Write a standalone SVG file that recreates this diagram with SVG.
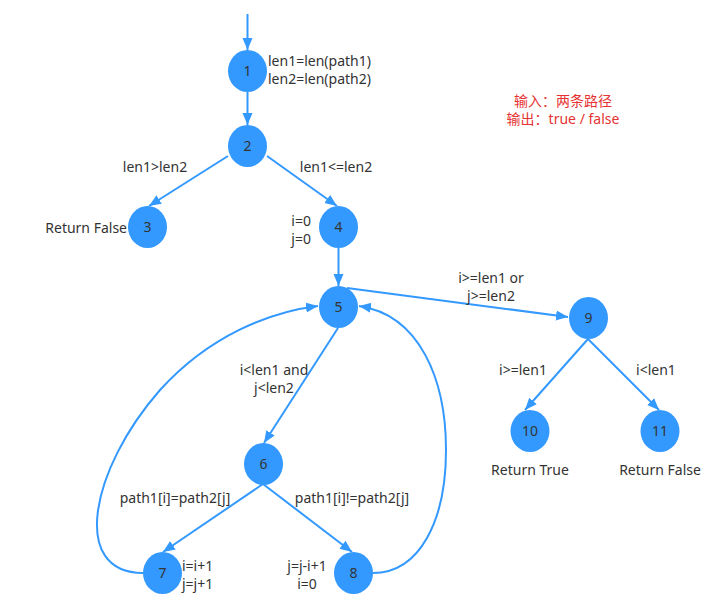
<svg xmlns="http://www.w3.org/2000/svg" width="714" height="602" viewBox="0 0 714 602">
<defs>
<marker id="arr" markerUnits="userSpaceOnUse" markerWidth="13" markerHeight="11" refX="12" refY="5" orient="auto">
<path d="M0,0 L12,5 L0,10 z" fill="#3399ff"/>
</marker>
<style>
.node{fill:#3399ff;}
.num{font-family:"Noto Sans","Open Sans",sans-serif;font-size:14px;fill:#333;text-anchor:middle;}
.lbl{font-family:"Noto Sans","Open Sans",sans-serif;font-size:14px;fill:#333;}
.mid{text-anchor:middle;}
.end{text-anchor:end;}
.edge{stroke:#3399ff;stroke-width:2;fill:none;marker-end:url(#arr);}
.note{font-family:"Noto Sans","Noto Sans CJK SC",sans-serif;font-size:14px;fill:#e53333;text-anchor:middle;}
</style>
</defs>
<rect width="714" height="602" fill="#ffffff"/>
<g id="edges">
<line class="edge" x1="247.5" y1="14" x2="247.5" y2="50"/>
<line class="edge" x1="247.5" y1="92" x2="247.5" y2="125"/>
<line class="edge" x1="228" y1="156" x2="149" y2="206"/>
<line class="edge" x1="267" y1="156" x2="337" y2="206"/>
<line class="edge" x1="338.5" y1="248" x2="338.5" y2="286"/>
<line class="edge" x1="338" y1="328" x2="264" y2="443"/>
<line class="edge" x1="263" y1="484" x2="163" y2="552"/>
<line class="edge" x1="263" y1="484" x2="352" y2="552"/>
<line class="edge" x1="347" y1="288" x2="568" y2="317"/>
<line class="edge" x1="588" y1="339" x2="525" y2="410"/>
<line class="edge" x1="588" y1="339" x2="659" y2="410"/>
<path class="edge" d="M143,573 C70,573 90,470 160,390 C210,335 270,312 318,306"/>
<path class="edge" d="M373,573 C420,573 446,520 446,450 C446,380 420,315 359,306"/>
</g>
<g id="n1"><ellipse class="node" cx="247.5" cy="71" rx="19.5" ry="21"/><text class="num" x="247.5" y="76">1</text></g>
<g id="n2"><ellipse class="node" cx="247.5" cy="146" rx="19.5" ry="21"/><text class="num" x="247.5" y="151">2</text></g>
<g id="n3"><ellipse class="node" cx="147.5" cy="227" rx="19.5" ry="21"/><text class="num" x="147.5" y="232">3</text></g>
<g id="n4"><ellipse class="node" cx="338.5" cy="227" rx="19.5" ry="21"/><text class="num" x="338.5" y="232">4</text></g>
<g id="n5"><ellipse class="node" cx="338.5" cy="307" rx="19.5" ry="21"/><text class="num" x="338.5" y="312">5</text></g>
<g id="n6"><ellipse class="node" cx="263.5" cy="464" rx="19.5" ry="21"/><text class="num" x="263.5" y="469">6</text></g>
<g id="n7"><ellipse class="node" cx="162.5" cy="573" rx="19.5" ry="21"/><text class="num" x="162.5" y="578">7</text></g>
<g id="n8"><ellipse class="node" cx="353.5" cy="573" rx="19.5" ry="21"/><text class="num" x="353.5" y="578">8</text></g>
<g id="n9"><ellipse class="node" cx="588.5" cy="318" rx="19.5" ry="21"/><text class="num" x="588.5" y="323">9</text></g>
<g id="n10"><ellipse class="node" cx="530" cy="431" rx="19.5" ry="21"/><text class="num" x="530" y="436">10</text></g>
<g id="n11"><ellipse class="node" cx="660" cy="431" rx="19.5" ry="21"/><text class="num" x="660" y="436">11</text></g>
<g id="labels">
<text class="lbl" x="268" y="66">len1=len(path1)</text>
<text class="lbl" x="268" y="84">len2=len(path2)</text>
<text class="lbl mid" x="155" y="172">len1&gt;len2</text>
<text class="lbl mid" x="336" y="172">len1&lt;=len2</text>
<text class="lbl end" x="127" y="233">Return False</text>
<text class="lbl end" x="311" y="226">i=0</text>
<text class="lbl end" x="311" y="244">j=0</text>
<text class="lbl mid" x="491" y="283">i&gt;=len1 or</text>
<text class="lbl mid" x="491" y="301">j&gt;=len2</text>
<text class="lbl mid" x="274" y="375">i&lt;len1 and</text>
<text class="lbl mid" x="274" y="393">j&lt;len2</text>
<text class="lbl mid" x="175" y="503">path1[i]=path2[j]</text>
<text class="lbl mid" x="352" y="503">path1[i]!=path2[j]</text>
<text class="lbl" x="182" y="571">i=i+1</text>
<text class="lbl" x="182" y="589">j=j+1</text>
<text class="lbl mid" x="307" y="571">j=j-i+1</text>
<text class="lbl mid" x="307" y="589">i=0</text>
<text class="lbl mid" x="523" y="375">i&gt;=len1</text>
<text class="lbl mid" x="656" y="375">i&lt;len1</text>
<text class="lbl mid" x="530" y="475">Return True</text>
<text class="lbl mid" x="660" y="475">Return False</text>
<text class="note" x="563" y="106">输入：两条路径</text>
<text class="note" x="563" y="124">输出：true / false</text>
</g>
</svg>
